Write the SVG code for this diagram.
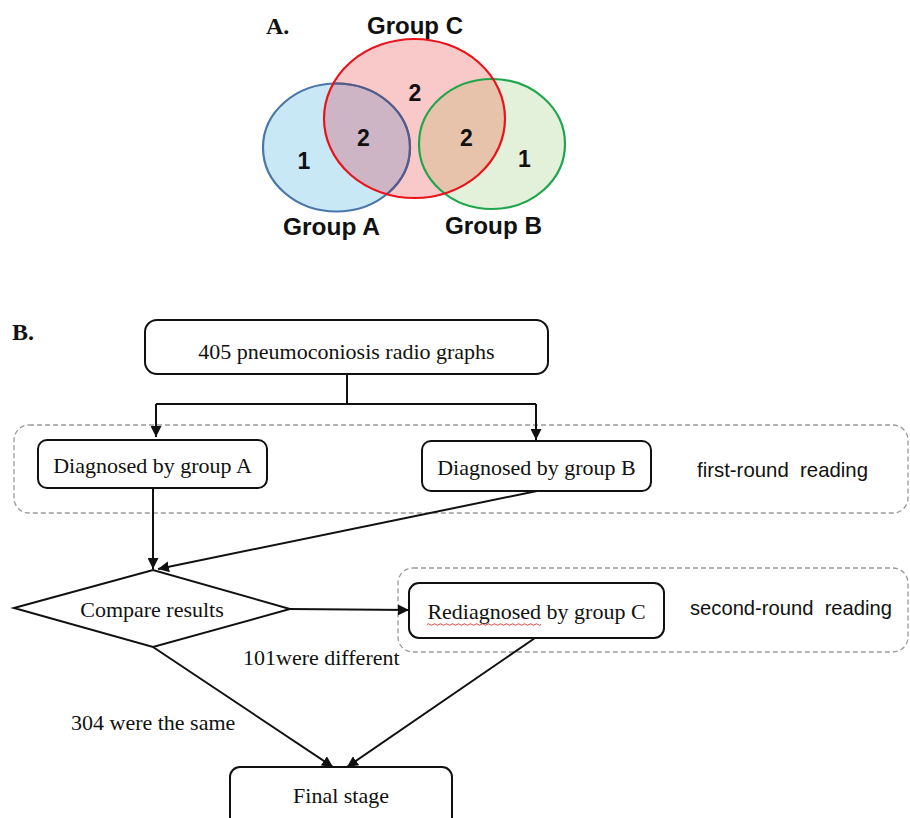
<svg xmlns="http://www.w3.org/2000/svg" width="910" height="818" viewBox="0 0 910 818">
<style>
.serif{font-family:"Liberation Serif","Times New Roman",serif;font-size:22px;fill:#111}
.sans{font-family:"Liberation Sans",Arial,sans-serif;font-size:21px;fill:#111}
.vlab{font-family:"Liberation Sans",Arial,sans-serif;font-size:24px;font-weight:bold;fill:#111}
.num{font-family:"Liberation Sans",Arial,sans-serif;font-size:23px;font-weight:bold;fill:#111;text-anchor:middle}
.head{font-family:"Liberation Serif","Times New Roman",serif;font-size:24px;font-weight:bold;fill:#111}
.box{fill:#fff;stroke:#111;stroke-width:2}
.dash{fill:none;stroke:#9a9a9a;stroke-width:1.3;stroke-dasharray:5 3}
.conn{fill:none;stroke:#111;stroke-width:2}
</style>
<defs>
<marker id="arr" viewBox="0 0 10 10" refX="10" refY="5" markerWidth="11" markerHeight="11" markerUnits="userSpaceOnUse" orient="auto">
<path d="M0,0 L10,5 L0,10 Z" fill="#111"/>
</marker>
<clipPath id="clipA"><ellipse cx="336.5" cy="147.5" rx="73.5" ry="64"/></clipPath>
<clipPath id="clipB"><ellipse cx="492" cy="144" rx="73" ry="65"/></clipPath>
<clipPath id="clipC"><ellipse cx="414.5" cy="118.5" rx="90.5" ry="79.5"/></clipPath>
</defs>

<g id="venn">
<ellipse cx="336.5" cy="147.5" rx="73.5" ry="64" fill="#c8e8f6"/>
<ellipse cx="492" cy="144" rx="73" ry="65" fill="#e3f1da"/>
<ellipse cx="414.5" cy="118.5" rx="90.5" ry="79.5" fill="#f9c8c8"/>
<ellipse cx="336.5" cy="147.5" rx="73.5" ry="64" fill="#cdb5c5" clip-path="url(#clipC)"/>
<ellipse cx="492" cy="144" rx="73" ry="65" fill="#e8c3ac" clip-path="url(#clipC)"/>
<ellipse cx="336.5" cy="147.5" rx="73.5" ry="64" fill="none" stroke="#4a76a8" stroke-width="2.2"/>
<ellipse cx="336.5" cy="147.5" rx="73.5" ry="64" fill="none" stroke="#5a5a88" stroke-width="2.2" clip-path="url(#clipC)"/>
<ellipse cx="492" cy="144" rx="73" ry="65" fill="none" stroke="#1ea64c" stroke-width="2.2"/>
<ellipse cx="414.5" cy="118.5" rx="90.5" ry="79.5" fill="none" stroke="#e8141c" stroke-width="2.2"/>
<text class="head" x="266" y="34">A.</text>
<text class="vlab" x="367" y="34" textLength="96" lengthAdjust="spacingAndGlyphs">Group C</text>
<text class="vlab" x="283" y="235" textLength="97" lengthAdjust="spacingAndGlyphs">Group A</text>
<text class="vlab" x="445" y="234" textLength="97" lengthAdjust="spacingAndGlyphs">Group B</text>
<text class="num" x="415" y="101">2</text>
<text class="num" x="363.5" y="146">2</text>
<text class="num" x="466.5" y="146">2</text>
<text class="num" x="304" y="169">1</text>
<text class="num" x="524.5" y="167">1</text>
</g>

<text class="head" x="12" y="340">B.</text>

<g id="group-round1"><rect class="dash" x="14" y="425" width="894" height="88" rx="15"/></g>
<g id="group-round2"><rect class="dash" x="398" y="568" width="510" height="84" rx="15"/></g>

<g id="connectors">
<path class="conn" d="M347,374 V404"/>
<path class="conn" d="M156,404 H536"/>
<path class="conn" d="M156,404 V437" marker-end="url(#arr)"/>
<path class="conn" d="M536,404 V440" marker-end="url(#arr)"/>
<path class="conn" d="M153,488 V569" marker-end="url(#arr)"/>
<path class="conn" d="M537,491 L158,569" marker-end="url(#arr)"/>
<path class="conn" d="M290,609 L409,610" marker-end="url(#arr)"/>
<path class="conn" d="M153,647 L333,767" marker-end="url(#arr)"/>
<path class="conn" d="M535,638 L347,767" marker-end="url(#arr)"/>
</g>

<g id="n-start">
<rect class="box" x="145" y="320" width="403" height="54" rx="12"/>
<text class="serif" x="346.5" y="359" text-anchor="middle">405 pneumoconiosis radio graphs</text>
</g>
<g id="n-groupA">
<rect class="box" x="38" y="440" width="229" height="48" rx="9"/>
<text class="serif" x="152.5" y="473" text-anchor="middle">Diagnosed by group A</text>
</g>
<g id="n-groupB">
<rect class="box" x="422" y="441" width="229" height="50" rx="9"/>
<text class="serif" x="536.5" y="475" text-anchor="middle">Diagnosed by group B</text>
</g>
<g id="n-compare">
<polygon class="box" points="14,608 153,570 290,609 153,647"/>
<text class="serif" x="152" y="617" text-anchor="middle">Compare results</text>
</g>
<g id="n-groupC">
<rect class="box" x="409" y="583" width="255" height="55" rx="10"/>
<text class="serif" x="536.5" y="619" text-anchor="middle">Rediagnosed by group C</text>
<path d="M427,624.5 q1.5,-1.5 3,0 t3,0 t3,0 t3,0 t3,0 t3,0 t3,0 t3,0 t3,0 t3,0 t3,0 t3,0 t3,0 t3,0 t3,0 t3,0 t3,0 t3,0 t3,0 t3,0 t3,0 t3,0 t3,0 t3,0 t3,0 t3,0 t3,0 t3,0 t3,0 t3,0 t3,0 t3,0 t3,0 t3,0 t3,0 t3,0 t3,0 t3,0" fill="none" stroke="#e03030" stroke-width="0.9"/>
</g>
<g id="n-final">
<rect class="box" x="230" y="767" width="222" height="60" rx="10"/>
<text class="serif" x="341" y="803" text-anchor="middle">Final stage</text>
</g>

<text class="sans" x="697" y="477" textLength="171" lengthAdjust="spacingAndGlyphs">first-round&#160; reading</text>
<text class="sans" x="690" y="615" textLength="202" lengthAdjust="spacingAndGlyphs">second-round&#160; reading</text>
<text class="serif" x="243" y="665">101were different</text>
<text class="serif" x="71" y="730">304 were the same</text>
</svg>
